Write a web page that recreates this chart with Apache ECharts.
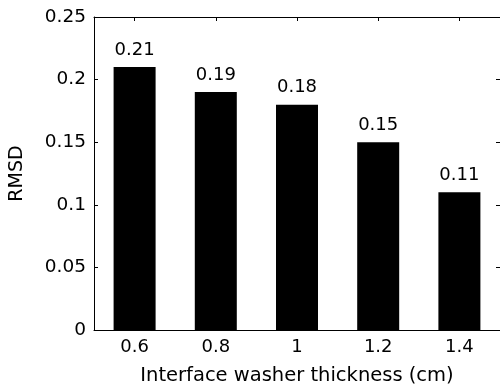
<!DOCTYPE html>
<html>
<head>
<meta charset="utf-8">
<script src="https://cdn.jsdelivr.net/npm/echarts@6/dist/echarts.min.js"></script>
<style>
html,body{margin:0;padding:0;background:#fff;}
#chart{width:500px;height:391px;}
</style>
</head>
<body>
<div id="chart"></div>
<script>
const categories = ['0.6', '0.8', '1', '1.2', '1.4'];
const rmsdValues = [0.21, 0.19, 0.18, 0.15, 0.11];
const yTicks = [0, 0.05, 0.1, 0.15, 0.2, 0.25];

const FONT = 'DejaVu Sans';
const chart = echarts.init(document.getElementById('chart'));
const axisLine = { show: true, onZero: false, lineStyle: { color: '#000', width: 1 } };
chart.setOption({
  animation: false,
  backgroundColor: '#fff',
  grid: { left: 94, right: -2, top: 17, bottom: 60, containLabel: false },
  xAxis: [{
    type: 'category',
    data: categories,
    position: 'bottom',
    axisLine: axisLine,
    axisTick: { show: true, inside: true, length: 4, alignWithLabel: true, lineStyle: { color: '#000' } },
    axisLabel: { color: '#000', fontFamily: FONT, fontSize: 18, margin: 8 },
    name: 'Interface washer thickness (cm)',
    nameLocation: 'middle',
    nameGap: 36,
    nameTextStyle: { color: '#000', fontFamily: FONT, fontSize: 19.5 }
  }, {
    type: 'category',
    data: categories,
    position: 'top',
    axisLine: axisLine,
    axisTick: { show: true, inside: true, length: 4, alignWithLabel: true, lineStyle: { color: '#000' } },
    axisLabel: { show: false }
  }],
  yAxis: [{
    type: 'value',
    min: 0, max: 0.25, interval: 0.05,
    position: 'left',
    axisLine: axisLine,
    splitLine: { show: false },
    axisTick: { show: true, inside: true, length: 4, lineStyle: { color: '#000' } },
    axisLabel: {
      color: '#000', fontFamily: FONT, fontSize: 18.5, margin: 8,
      formatter: v => { const t = yTicks.find(x => Math.abs(x - v) < 1e-9); return t === undefined ? '' : String(t); }
    },
    name: 'RMSD',
    nameLocation: 'middle',
    nameGap: 67,
    nameRotate: 90,
    nameTextStyle: { color: '#000', fontFamily: FONT, fontSize: 19 }
  }, {
    type: 'value',
    min: 0, max: 0.25, interval: 0.05,
    position: 'right',
    axisLine: axisLine,
    splitLine: { show: false },
    axisTick: { show: true, inside: true, length: 4, lineStyle: { color: '#000' } },
    axisLabel: { show: false }
  }],
  series: [{
    type: 'bar',
    data: rmsdValues,
    barWidth: 42,
    itemStyle: { color: '#000' },
    label: {
      show: true, position: 'top', distance: 8,
      color: '#000', fontFamily: FONT, fontSize: 18,
      formatter: p => p.value.toFixed(2)
    }
  }]
});
</script>
</body>
</html>
